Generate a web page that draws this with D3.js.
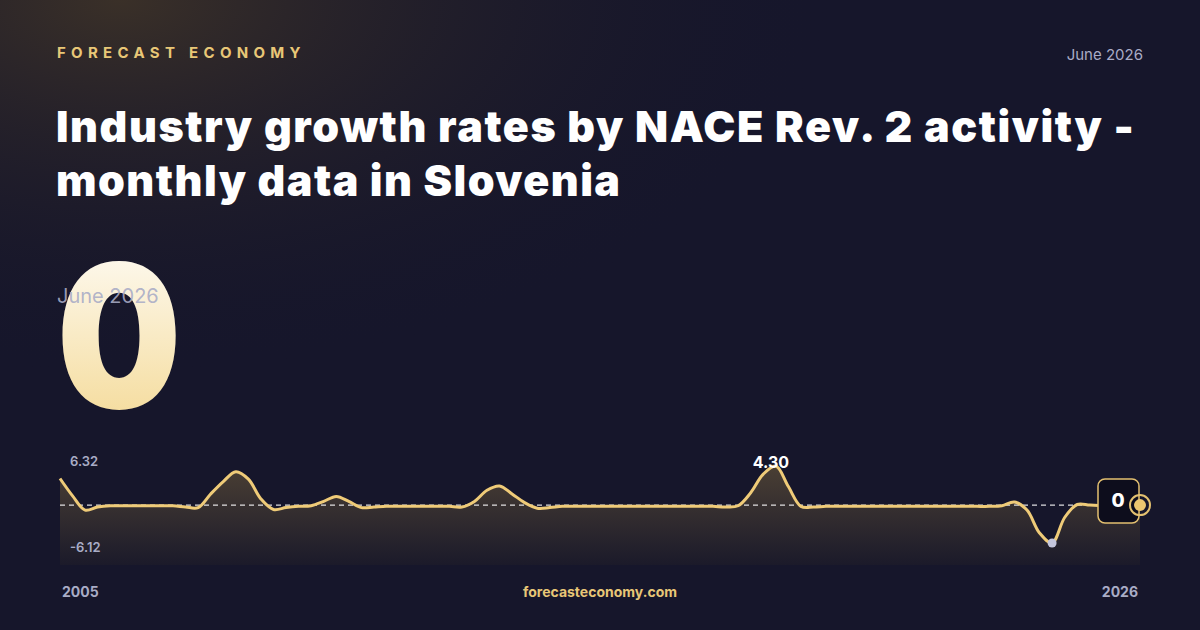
<!DOCTYPE html>
<html><head><meta charset="utf-8">
<script src="https://cdn.jsdelivr.net/npm/d3@7"></script>
<style>body{margin:0;background:#15152a}svg{display:block}</style>
</head><body>
<svg id="c" width="1200" height="630"></svg>
<script>
// quarterly values, 2005 Q1 .. 2026 Q3
var values = [4.3,1.5,-0.8,-0.3,-0.1,-0.1,-0.1,-0.1,-0.1,-0.1,-0.3,-0.4,1.8,3.8,5.4,4.2,1.0,-0.7,-0.4,-0.2,
  -0.1,0.6,1.4,0.6,-0.4,-0.3,-0.2,-0.2,-0.2,-0.2,-0.2,-0.2,-0.3,0.6,2.4,3.1,1.8,0.4,-0.5,-0.4,
  -0.2,-0.2,-0.2,-0.2,-0.2,-0.2,-0.2,-0.2,-0.2,-0.2,-0.2,-0.2,-0.2,-0.3,-0.1,2.0,5.0,6.32,3.0,-0.2,
  -0.3,-0.2,-0.2,-0.2,-0.2,-0.2,-0.2,-0.2,-0.2,-0.2,-0.2,-0.2,-0.2,-0.2,-0.2,-0.1,0.5,-0.8,-4.5,-6.12,
  -2.0,0.1,0,-0.1,-0.1,0,0];
var startYear = "2005", endYear = "2026";
var maxLabel = "6.32", minLabel = "-6.12", peakLabel = "4.30", current = "0", period = "June 2026";

var svg = d3.select("#c");
var defs = svg.append("defs");
var g1 = defs.append("radialGradient").attr("id","glow").attr("cx","0.1").attr("cy","0").attr("r","0.6");
g1.append("stop").attr("offset","0").attr("stop-color","#3a3028");
g1.append("stop").attr("offset","1").attr("stop-color","#15152a").attr("stop-opacity",0);
var g2 = defs.append("linearGradient").attr("id","big").attr("x1",0).attr("y1",0).attr("x2",0).attr("y2",1);
g2.append("stop").attr("offset","0").attr("stop-color","#ffffff");
g2.append("stop").attr("offset","1").attr("stop-color","#f3d68c");
var g3 = defs.append("linearGradient").attr("id","area").attr("x1",0).attr("y1",0).attr("x2",0).attr("y2",1);
g3.append("stop").attr("offset","0").attr("stop-color","#4a3f34");
g3.append("stop").attr("offset","1").attr("stop-color","#1b1a2a");

svg.append("rect").attr("width",1200).attr("height",630).attr("fill","#16162b");
svg.append("rect").attr("width",1200).attr("height",630).attr("fill","url(#glow)");

svg.append("text").attr("x",57).attr("y",58).attr("fill","#e8c777").attr("font-family","Inter")
  .attr("font-size",15).attr("font-weight",700).attr("letter-spacing",5.3).text("FORECAST ECONOMY");
svg.append("text").attr("x",1143).attr("y",60).attr("text-anchor","end").attr("fill","#a9acc6")
  .attr("font-family","Inter").attr("font-size",15).text(period);
var title = svg.append("text").attr("fill","#fff").attr("font-family","Inter").attr("font-size",43).attr("font-weight",900);
title.append("tspan").attr("x",56).attr("y",142).attr("textLength",1078).attr("lengthAdjust","spacing").text("Industry growth rates by NACE Rev. 2 activity -");
title.append("tspan").attr("x",56).attr("y",196).attr("textLength",564).attr("lengthAdjust","spacing").text("monthly data in Slovenia");

svg.append("text").attr("x",119).attr("y",408).attr("text-anchor","middle").attr("fill","url(#big)")
  .attr("font-family","Inter").attr("font-size",200).attr("font-weight",900)
  .attr("transform","translate(119,408) scale(0.88,1) translate(-119,-408)").text(current);
svg.append("text").attr("x",57).attr("y",303).attr("fill","#a9acc6").attr("fill-opacity",0.9)
  .attr("font-family","Inter").attr("font-size",20).text(period);

var x = d3.scaleLinear().domain([0, values.length-1]).range([60,1140]);
var y = d3.scaleLinear().domain([-6.12, 6.32]).range([543,466]);
var curve = d3.curveCatmullRom;
svg.append("path").datum(values).attr("fill","url(#area)")
  .attr("d", d3.area().x((d,i)=>x(i)).y0(565).y1(d=>y(d)).curve(curve));
svg.append("line").attr("x1",60).attr("x2",1140).attr("y1",y(0)).attr("y2",y(0))
  .attr("stroke","#fff").attr("stroke-width",1.2).attr("stroke-dasharray","5,4").attr("opacity",0.85);
svg.append("path").datum(values).attr("fill","none").attr("stroke","#efcb78").attr("stroke-width",3)
  .attr("d", d3.line().x((d,i)=>x(i)).y(d=>y(d)).curve(curve));

var imin = values.indexOf(d3.min(values)), imax = values.indexOf(d3.max(values));
svg.append("circle").attr("cx",x(imin)).attr("cy",y(values[imin])).attr("r",4.5).attr("fill","#c4c6dc");
svg.append("text").attr("x",x(imax)-5).attr("y",468).attr("text-anchor","middle").attr("fill","#fff")
  .attr("font-family","Inter").attr("font-size",16).attr("font-weight",700).text(peakLabel);

svg.append("text").attr("x",70).attr("y",466).attr("fill","#a9acc6").attr("font-family","Inter")
  .attr("font-size",13).attr("font-weight",600).text(maxLabel);
svg.append("text").attr("x",70).attr("y",552).attr("fill","#a9acc6").attr("font-family","Inter")
  .attr("font-size",13).attr("font-weight",600).text(minLabel);

var last = values.length-1;
svg.append("rect").attr("x",1098).attr("y",479).attr("width",41).attr("height",44).attr("rx",7)
  .attr("fill","#0d0d1c").attr("stroke","#e3c070").attr("stroke-width",1.5);
svg.append("text").attr("x",1118).attr("y",507).attr("text-anchor","middle").attr("fill","#fff")
  .attr("font-family","Inter").attr("font-size",19).attr("font-weight",800).text(current);
svg.append("circle").attr("cx",x(last)).attr("cy",y(values[last])).attr("r",10).attr("fill","none")
  .attr("stroke","#e3c070").attr("stroke-width",2);
svg.append("circle").attr("cx",x(last)).attr("cy",y(values[last])).attr("r",6).attr("fill","#ecc670");

svg.append("text").attr("x",62).attr("y",597).attr("fill","#a9acc6").attr("font-family","Inter")
  .attr("font-size",14).attr("font-weight",700).text(startYear);
svg.append("text").attr("x",1138).attr("y",597).attr("text-anchor","end").attr("fill","#a9acc6")
  .attr("font-family","Inter").attr("font-size",14).attr("font-weight",700).text(endYear);
svg.append("text").attr("x",600).attr("y",597).attr("text-anchor","middle").attr("fill","#e8c777")
  .attr("font-family","Inter").attr("font-size",14).attr("font-weight",700).text("forecasteconomy.com");
</script>
</body></html>
